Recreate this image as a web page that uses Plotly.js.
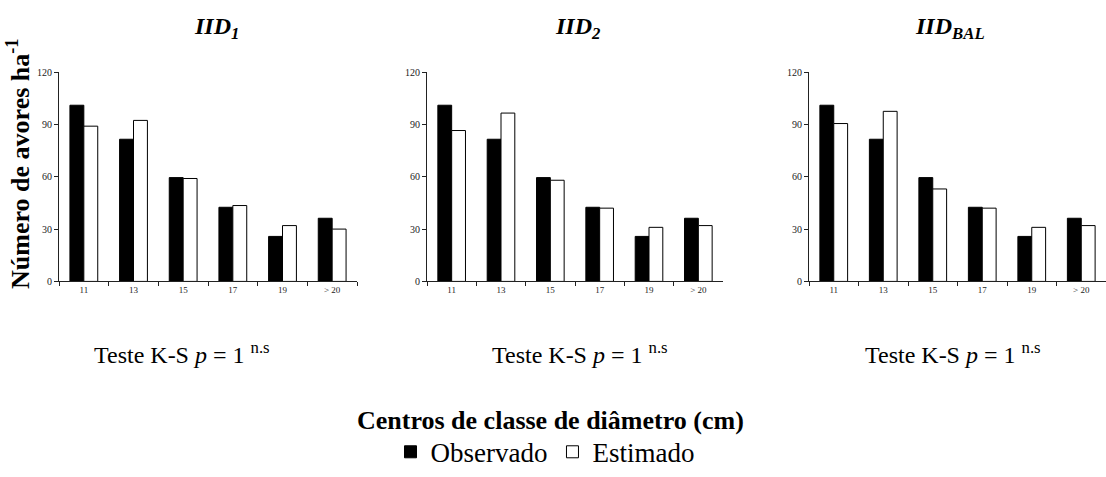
<!DOCTYPE html>
<html>
<head>
<meta charset="utf-8">
<script src="https://cdn.plot.ly/plotly-3.0.1.min.js"></script>
<style>html,body{margin:0;padding:0;background:#fff;}#chart{width:1106px;height:477px;}</style>
</head>
<body>
<div id="chart"></div>
<script>
var categories = ["11", "13", "15", "17", "19", "> 20"];
var observado = [101, 81.5, 59.5, 42.5, 25.8, 36.2];
var estimadoIID1 = [89, 92.3, 59, 43.5, 32, 30];
var estimadoIID2 = [86.5, 96.5, 58, 42, 31, 32];
var estimadoIIDBAL = [90.5, 97.5, 53, 42, 31, 32];
var panelTitles = ["<b><i>IID<sub>1</sub></i></b>", "<b><i>IID<sub>2</sub></i></b>", "<b><i>IID<sub>BAL</sub></i></b>"];
var seriesNames = ["Observado", "Estimado"];
var yTicks = [0, 30, 60, 90, 120];
var testText = "Teste K-S <i>p</i> = 1 <sup>n.s</sup>";
var xTitle = "<b>Centros de classe de diâmetro (cm)</b>";
var yTitle = "<b>Número de avores ha<sup>-1</sup></b>";

var estimados = [estimadoIID1, estimadoIID2, estimadoIIDBAL];
var W = 1106, H = 477;
var panelsPx = [[59, 357], [427, 723], [809, 1106]];
var titleX = [216, 577, 950];
var testX = [92, 490, 863];
var yTop = 73, yBot = 285;
var font = "Liberation Serif, serif";

var traces = [];
var layout = {
  width: W, height: H,
  margin: {l: 0, r: 0, t: 0, b: 0, pad: 0},
  paper_bgcolor: "#fff", plot_bgcolor: "#fff",
  barmode: "group", bargap: 0.44, bargroupgap: 0,
  font: {family: font, color: "#000"},
  showlegend: true,
  legend: {orientation: "h", x: 545 / W, xanchor: "center", y: 1 - 458 / H, yanchor: "middle",
           font: {family: font, size: 27, color: "#000"}, itemwidth: 30, traceorder: "normal"},
  annotations: []
};

for (var i = 0; i < 3; i++) {
  var sfx = i === 0 ? "" : String(i + 1);
  traces.push({type: "bar", x: categories, y: observado, name: seriesNames[0],
    xaxis: "x" + sfx, yaxis: "y" + sfx, legendgroup: "obs", showlegend: i === 0,
    marker: {color: "#000", line: {color: "#000", width: 1}}, hoverinfo: "x+y"});
  traces.push({type: "bar", x: categories, y: estimados[i], name: seriesNames[1],
    xaxis: "x" + sfx, yaxis: "y" + sfx, legendgroup: "est", showlegend: i === 0,
    marker: {color: "#fff", line: {color: "#000", width: 1}}, hoverinfo: "x+y"});
  var d = panelsPx[i];
  layout["xaxis" + sfx] = {
    domain: [d[0] / W, d[1] / W], anchor: "y" + sfx, type: "category",
    tickson: "boundaries", ticks: "outside", ticklen: 4, tickcolor: "#222",
    showline: true, linecolor: "#222", linewidth: 1, showgrid: false, zeroline: false,
    tickfont: {family: font, size: 9, color: "#222"}, fixedrange: true
  };
  layout["yaxis" + sfx] = {
    domain: [1 - yBot / H, 1 - yTop / H], anchor: "x" + sfx,
    range: [0, 120], tickvals: yTicks, ticks: "outside", ticklen: 4, tickcolor: "#222",
    showline: true, linecolor: "#222", linewidth: 1, showgrid: false, zeroline: false,
    tickfont: {family: font, size: 10, color: "#222"}, fixedrange: true
  };
  layout.annotations.push({text: panelTitles[i], xref: "paper", yref: "paper",
    x: titleX[i] / W, y: 1 - 28 / H, xanchor: "center", yanchor: "middle", showarrow: false,
    font: {family: font, size: 24, color: "#000"}});
  layout.annotations.push({text: testText, xref: "paper", yref: "paper",
    x: testX[i] / W, y: 1 - 357 / H, xanchor: "left", yanchor: "middle", showarrow: false,
    font: {family: font, size: 24, color: "#000"}});
}
layout.annotations.push({text: xTitle, xref: "paper", yref: "paper",
  x: 550 / W, y: 1 - 426 / H, xanchor: "center", yanchor: "middle", showarrow: false,
  font: {family: font, size: 26, color: "#000"}});
layout.annotations.push({text: yTitle, xref: "paper", yref: "paper",
  x: 19 / W, y: 1 - 166 / H, xanchor: "center", yanchor: "middle", showarrow: false,
  textangle: -90, bgcolor: "#fff", borderpad: 0,
  font: {family: font, size: 26, color: "#000"}});

Plotly.newPlot("chart", traces, layout, {displayModeBar: false, staticPlot: true});
</script>
</body>
</html>
